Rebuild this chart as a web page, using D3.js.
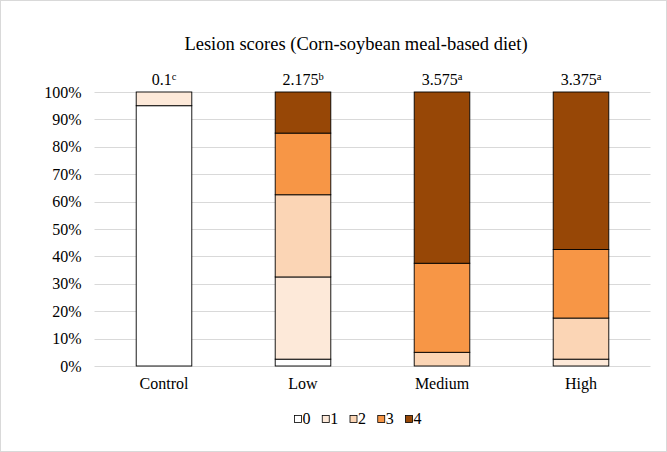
<!DOCTYPE html>
<html>
<head>
<meta charset="utf-8">
<script src="https://cdn.jsdelivr.net/npm/d3@7"></script>
<style>
  html, body { margin: 0; padding: 0; background: #fff; }
  svg { display: block; }
  svg text { font-family: "Liberation Serif", "Times New Roman", serif !important; }
</style>
</head>
<body>
<svg id="chart" width="667" height="452"></svg>
<script>
const categories = ["Control", "Low", "Medium", "High"];
const scores = ["0", "1", "2", "3", "4"];
// percentage of birds per lesion score, per group
const score0 = [95, 2.5, 0, 0];
const score1 = [5, 30, 0, 2.5];
const score2 = [0, 30, 5, 15];
const score3 = [0, 22.5, 32.5, 25];
const score4 = [0, 15, 62.5, 57.5];
const meanLabels = ["0.1", "2.175", "3.575", "3.375"];
const meanLetters = ["c", "b", "a", "a"];
const yTicks = [0, 10, 20, 30, 40, 50, 60, 70, 80, 90, 100];
const colors = ["#FFFFFF", "#FDE9D9", "#FBD5B5", "#F79646", "#974706"];

const seriesValues = [score0, score1, score2, score3, score4];
const table = categories.map((c, i) => {
  const row = { cat: c };
  scores.forEach((s, j) => row[s] = seriesValues[j][i]);
  return row;
});

const svg = d3.select("#chart");
const W = 667, H = 452;
const margin = { left: 94.5, right: 16.5, top: 92, bottom: 86 };
const FONT = "'Liberation Serif', 'Times New Roman', serif";

svg.append("rect").attr("x", 0.5).attr("y", 0.5).attr("width", W - 1).attr("height", H - 1)
  .attr("fill", "#fff").attr("stroke", "#d9d9d9");

const x = d3.scaleBand().domain(categories)
  .range([margin.left, W - margin.right]).paddingInner(0.6).paddingOuter(0.3);
const y = d3.scaleLinear().domain([0, 100]).range([H - margin.bottom, margin.top]);

// gridlines
svg.append("g").selectAll("line").data(yTicks).join("line")
  .attr("x1", margin.left).attr("x2", W - margin.right)
  .attr("y1", d => Math.round(y(d)) + 0.5).attr("y2", d => Math.round(y(d)) + 0.5)
  .attr("stroke", "#d9d9d9").attr("stroke-width", 1);

// y axis
const yAxis = d3.axisLeft(y).tickValues(yTicks).tickFormat(d => d + "%").tickSize(0).tickPadding(13);
const ya = svg.append("g").attr("transform", `translate(${margin.left},0)`).call(yAxis)
  .attr("font-family", FONT);
ya.select(".domain").remove();
ya.selectAll("text").attr("font-size", 16).attr("fill", "#000").style("font-family", FONT);

// x axis
const xAxis = d3.axisBottom(x).tickSize(0).tickPadding(12);
const xa = svg.append("g").attr("transform", `translate(0,${H - margin.bottom})`).call(xAxis)
  .attr("font-family", FONT);
xa.select(".domain").remove();
xa.selectAll("text").attr("font-size", 16).attr("fill", "#000").style("font-family", FONT);

// stacks
const stacked = d3.stack().keys(scores)(table);
svg.append("g").selectAll("g").data(stacked).join("g")
  .attr("fill", (d, i) => colors[i])
  .selectAll("rect").data(d => d.filter(p => p[1] - p[0] > 0)).join("rect")
  .attr("x", d => x(d.data.cat))
  .attr("width", x.bandwidth())
  .attr("y", d => y(d[1]))
  .attr("height", d => y(d[0]) - y(d[1]))
  .attr("stroke", "#000").attr("stroke-width", 0.9);

// mean labels
const lab = svg.append("g").selectAll("text").data(categories).join("text")
  .attr("x", d => x(d) + x.bandwidth() / 2)
  .attr("y", margin.top - 7)
  .attr("text-anchor", "middle").attr("font-size", 16).attr("fill", "#000")
  .style("font-family", FONT);
lab.append("tspan").text((d, i) => meanLabels[i]);
lab.append("tspan").attr("font-size", 10.5).attr("dy", -5).text((d, i) => meanLetters[i]);

// title
svg.append("text").attr("x", 356).attr("y", 50).attr("text-anchor", "middle")
  .attr("font-size", 18.5).attr("fill", "#000").style("font-family", FONT)
  .text("Lesion scores (Corn-soybean meal-based diet)");

// legend
const legendX = d3.scalePoint().domain(scores).range([294, 405]);
const lg = svg.append("g").selectAll("g").data(scores).join("g")
  .attr("transform", d => `translate(${legendX(d)},415)`);
lg.append("rect").attr("x", 0.5).attr("y", 0.5).attr("width", 7).attr("height", 7)
  .attr("fill", (d, i) => colors[i]).attr("stroke", "#000").attr("stroke-width", 0.8);
lg.append("text").attr("x", 8.5).attr("y", 9).attr("font-size", 16).attr("fill", "#000")
  .style("font-family", FONT).text(d => d);
</script>
</body>
</html>
